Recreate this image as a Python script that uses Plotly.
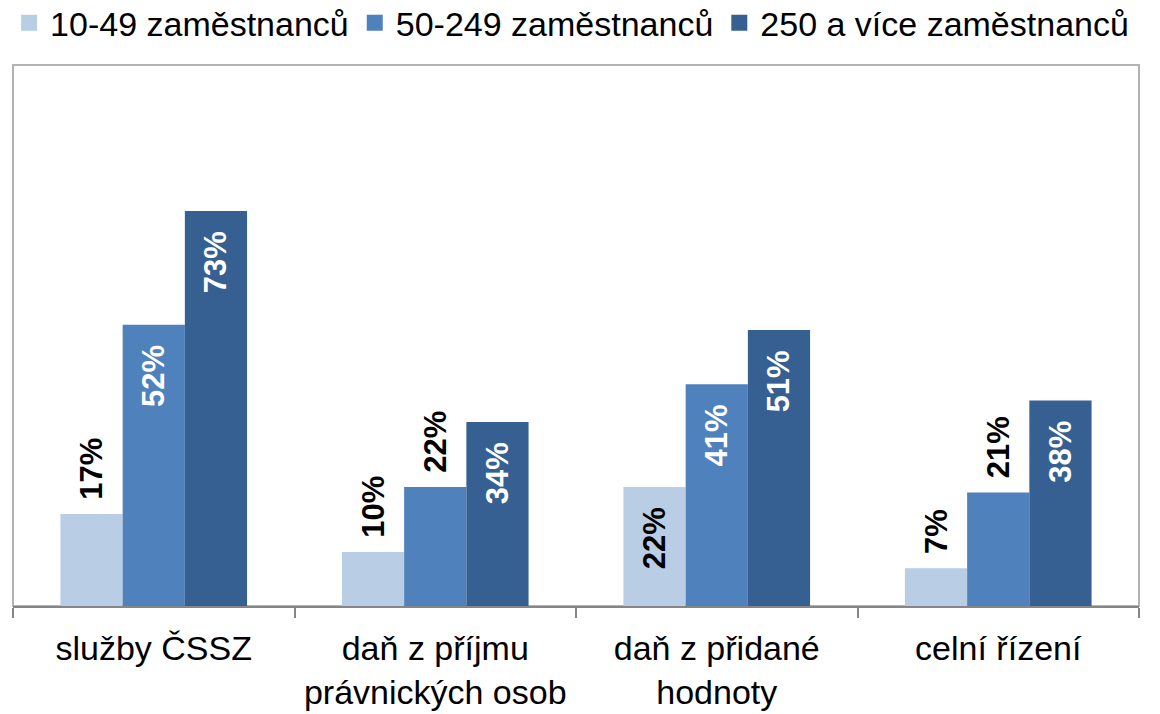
import plotly.graph_objects as go

categories = ["služby ČSSZ", "daň z příjmu<br>právnických osob", "daň z přidané<br>hodnoty", "celní řízení"]
series_names = ["10-49 zaměstnanců", "50-249 zaměstnanců", "250 a více zaměstnanců"]
small = [17, 10, 22, 7]
medium = [52, 22, 41, 21]
large = [73, 34, 51, 38]
colors = ["#B9CDE5", "#4F81BD", "#376092"]

# label placement per point (inside / outside) and colour
positions = [
    ["outside", "outside", "inside", "outside"],
    ["inside", "outside", "inside", "outside"],
    ["inside", "inside", "inside", "inside"],
]
label_colors = [
    ["black", "black", "black", "black"],
    ["white", "black", "white", "black"],
    ["white", "white", "white", "white"],
]

NB = "\u00a0"

def label(v, pos):
    if pos == "inside":
        return f"{v}%" + NB * 2
    return NB + "\u200a" + f"{v}%"

fig = go.Figure()
for name, vals, col, pos, lc in zip(series_names, [small, medium, large], colors, positions, label_colors):
    fig.add_trace(go.Bar(
        name=name,
        x=categories,
        y=vals,
        legendgroup=name,
        showlegend=False,
        marker=dict(color=col, line=dict(width=0)),
        text=[label(v, p) for v, p in zip(vals, pos)],
        textposition=pos,
        textangle=-90,
        insidetextanchor="end",
        constraintext="none",
        cliponaxis=False,
        hoverinfo="skip",
        textfont=dict(family="Liberation Sans", size=31, color=lc, weight="bold"),
    ))
# legend entries (square swatches)
for name, col in zip(series_names, colors):
    fig.add_trace(go.Scatter(
        name=name, x=[categories[0]], y=[None], mode="markers", legendgroup=name,
        showlegend=True, hoverinfo="skip",
        marker=dict(symbol="square", size=18, color=col),
    ))

fig.update_layout(
    width=1160, height=714,
    barmode="group", bargap=0.337, bargroupgap=0,
    plot_bgcolor="white", paper_bgcolor="white",
    showlegend=True,
    margin=dict(l=13, r=21, t=65, b=108, autoexpand=False),
    font=dict(family="Liberation Sans", size=34, color="black"),
    legend=dict(
        orientation="h", x=0.007, xref="container", xanchor="left",
        y=1.131, yref="paper", yanchor="top",
        bgcolor="rgba(0,0,0,0)",
        font=dict(family="Liberation Sans", size=34, color="black"),
        itemclick=False, itemdoubleclick=False, traceorder="normal",
        itemwidth=32, itemsizing="trace",
    ),
    shapes=[dict(type="rect", xref="paper", yref="paper", x0=0, x1=1, y0=0, y1=1,
                 line=dict(color="#B3B3B3", width=2), layer="below")],
)
fig.update_xaxes(
    showline=True, linecolor="#868686", linewidth=2,
    ticks="outside", tickson="boundaries", ticklen=10, tickwidth=2, tickcolor="#868686",
    tickfont=dict(family="Liberation Sans", size=34, color="black"),
    ticklabelstandoff=11,
    showgrid=False, zeroline=False,
)
fig.update_yaxes(range=[0, 100], showticklabels=False, showgrid=False, zeroline=False, ticks="")

fig.write_html("out.html", config={"displayModeBar": False},
               post_script="document.body.style.margin='0';")
